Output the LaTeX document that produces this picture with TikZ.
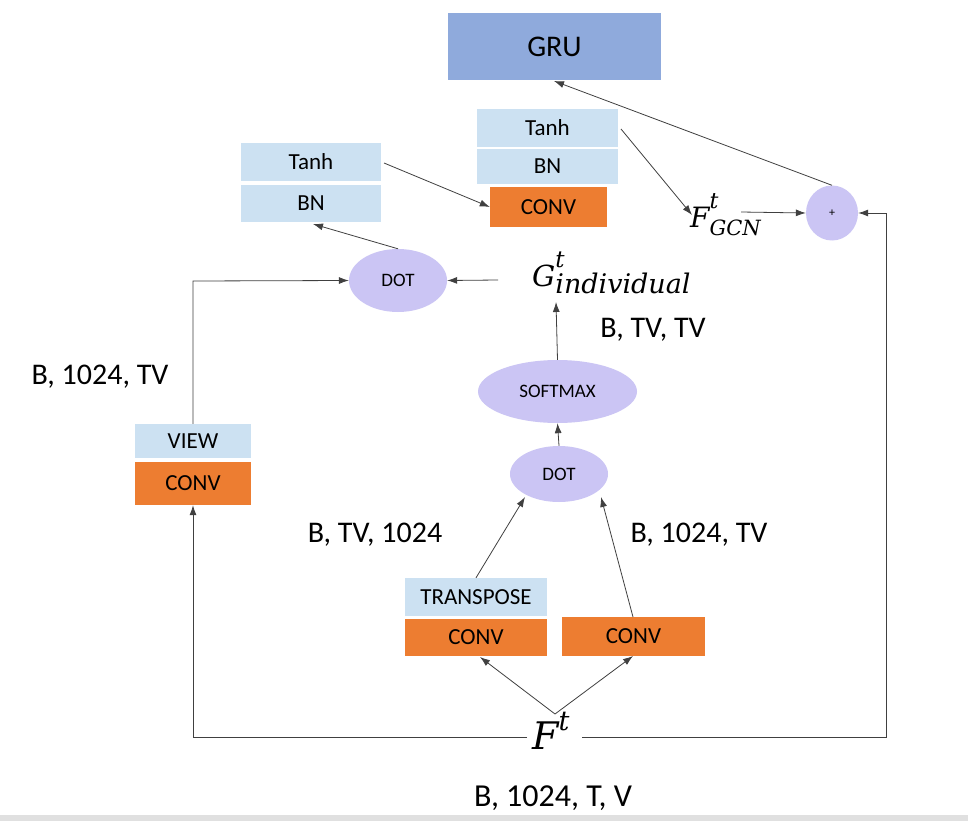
\documentclass[tikz,border=0pt]{standalone}
\usepackage{fontspec}
\setmainfont{Carlito}
\newfontfamily\mif{DejaVu Serif}
\usetikzlibrary{arrows.meta,shapes.geometric}
\definecolor{grublue}{HTML}{8FAADC}
\definecolor{lblue}{HTML}{CCE1F2}
\definecolor{orng}{HTML}{ED7D31}
\definecolor{lav}{HTML}{CBC5F4}
\definecolor{lnc}{HTML}{404040}
\newcommand\mi[2]{{\fontsize{#1}{#1}\mif\itshape #2}}
\tikzset{
  box/.style={draw=none,fill=lblue,inner sep=0pt,font=\fontsize{23}{25}\selectfont},
  obox/.style={draw=none,fill=orng,inner sep=0pt,font=\fontsize{23}{25}\selectfont},
  ell/.style={ellipse,draw=none,fill=lav,inner sep=0pt,font=\fontsize{19}{21}\selectfont},
  lbl/.style={inner sep=0pt,font=\fontsize{30}{32}\selectfont},
  mth/.style={inner sep=0pt,anchor=base west},
  arr/.style={draw=lnc,line width=0.8pt,-{Latex[length=10pt,width=7pt]}},
  ln/.style={draw=lnc,line width=0.8pt}
}
\begin{document}
\begin{tikzpicture}[x=1pt,y=-1pt]
\useasboundingbox (0,0) rectangle (968,821);
\fill[white] (0,0) rectangle (968,821);
\fill[black!12] (0,815) rectangle (968,821);
% boxes
\node[box,fill=grublue,minimum width=213pt,minimum height=67pt,font=\fontsize{30}{32}\selectfont] (gru) at (554.5,46.5) {GRU};
\node[box,minimum width=141pt,minimum height=38pt] (tanh2) at (547.5,128) {Tanh};
\node[box,minimum width=141pt,minimum height=35pt] (bn2) at (547.5,166.5) {BN};
\node[obox,minimum width=117pt,minimum height=40pt] (conv3) at (548.5,207) {CONV};
\node[box,minimum width=140pt,minimum height=38pt] (tanh1) at (311,162) {Tanh};
\node[box,minimum width=140pt,minimum height=37pt] (bn1) at (311,203.5) {BN};
\node[ell,minimum width=98pt,minimum height=63pt] (dot1) at (398,280.5) {DOT};
\node[mth] (g) at (532,286) {\mi{29}{G}\rlap{\raisebox{19pt}{\mi{23}{t}}}\raisebox{-7pt}{\mi{27}{individual}}};
\node[box,minimum width=116pt,minimum height=34pt] (view) at (193,441) {VIEW};
\node[obox,minimum width=116pt,minimum height=43pt] (conv0) at (193,483.5) {CONV};
\node[ell,minimum width=159pt,minimum height=63pt] (soft) at (557.5,391.5) {SOFTMAX};
\node[ell,minimum width=98pt,minimum height=56pt] (dot2) at (559,474) {DOT};
\node[box,minimum width=142pt,minimum height=38pt] (trans) at (476,597) {TRANSPOSE};
\node[obox,minimum width=142pt,minimum height=37pt] (conv1) at (476,637.5) {CONV};
\node[obox,minimum width=143pt,minimum height=39pt] (conv2) at (633.5,636.5) {CONV};
\node[mth] (f) at (532,749) {\mi{38}{F}\raisebox{19pt}{\mi{27}{t}}};
\node[ell,minimum width=52pt,minimum height=55pt,font=\fontsize{12}{13}\selectfont] (plus) at (832,213) {+};
\node[mth] (fg) at (690,227) {\mi{28}{F}\rlap{\raisebox{19pt}{\mi{22}{t}}}\raisebox{-8pt}{\mi{21}{GCN}}};
% labels
\node[lbl] (l1) at (100,377) {B, 1024, TV};
\node[lbl] (l2) at (653,330) {B, TV, TV};
\node[lbl] (l3) at (375,535) {B, TV, 1024};
\node[lbl] (l4) at (699,535) {B, 1024, TV};
\node[lbl,font=\fontsize{32}{34}\selectfont] (l5) at (553,798) {B, 1024, T, V};
% coordinates
\coordinate (fl) at (527,737);
\coordinate (fr) at (582,737);
\coordinate (cl) at (193,737);
\coordinate (cr) at (886,737);
\coordinate (ctop) at (886,213);
\coordinate (vl) at (193,281);
\coordinate (gl) at (498,280);
\coordinate (ftop) at (555,714);
\coordinate (fgl) at (692,215);
\coordinate (fgr) at (741,212);
% connectors
\draw[arr] (fl) -- (cl) -- (conv0.south);
\draw[arr] (view.north) -- (vl) -- (dot1.west);
\draw[arr] (gl) -- (dot1.east);
\draw[arr] (dot1.north) -- (313,224);
\draw[arr] (384,163) -- (conv3.west);
\draw[arr] (621,129) -- (fgl);
\draw[arr] (fgr) -- (plus.west);
\draw[arr] (fr) -- (cr) -- (ctop) -- (plus.east);
\draw[arr] (plus.north) -- (554,81);
\draw[arr] (dot2.north) -- (soft.south);
\draw[arr] (soft.north) -- (556,302);
\draw[arr] (trans.north) -- (525,497);
\draw[arr] (633,617) -- (601,497);
\draw[arr] (ftop) -- (480,657);
\draw[arr] (ftop) -- (633,656);
\end{tikzpicture}
\end{document}
